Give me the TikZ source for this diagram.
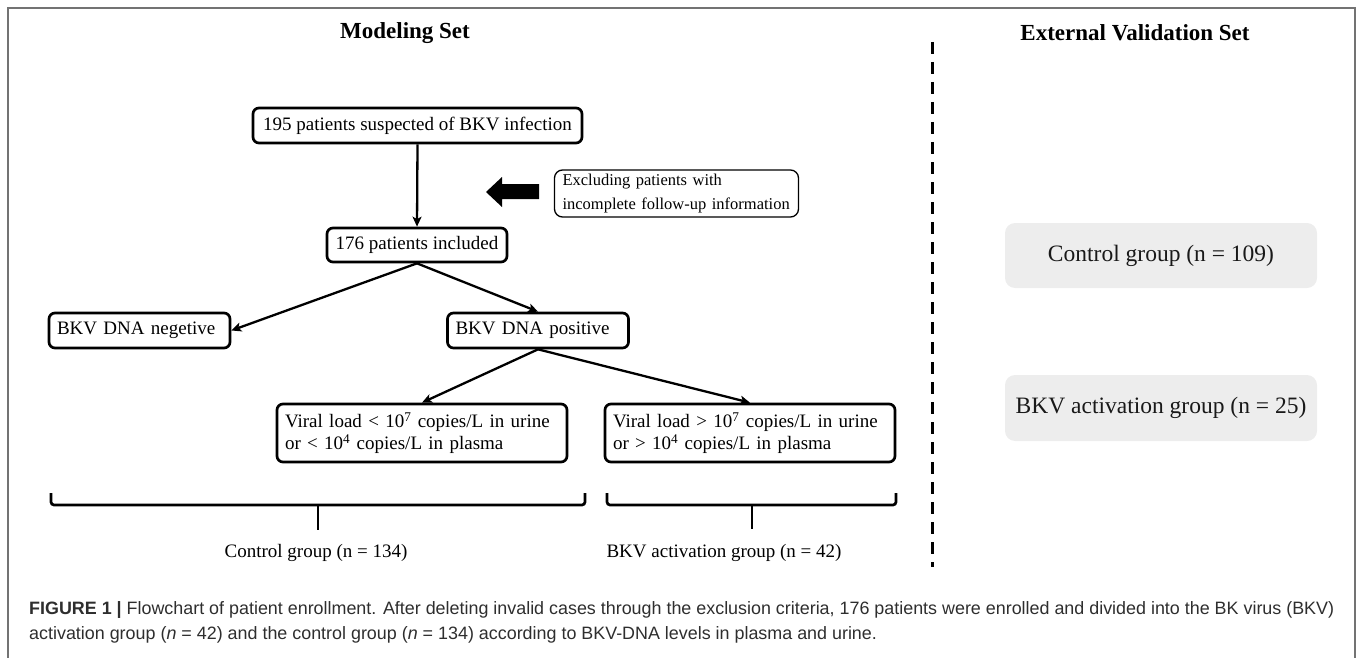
\documentclass[tikz,border=0pt]{standalone}
\usepackage{fontspec}
\setmainfont{Liberation Serif}
\newfontfamily\capfont{Liberation Sans}
\usetikzlibrary{arrows.meta}
\begin{document}
\begin{tikzpicture}[x=1pt,y=-1pt,
  fbox/.style={draw, line width=2.7pt, rounded corners=6pt, inner ysep=0pt, inner xsep=8pt,
    font=\fontsize{19}{22}\selectfont, align=center},
  lbox/.style={fbox, align=left},
  conn/.style={line width=2.3pt, -{Stealth[length=10pt,width=9pt,inset=2.5pt]}},
  brace/.style={line width=2.7pt, rounded corners=3pt},
  gbox/.style={fill=black!7, rounded corners=10pt, inner sep=0pt,
    font=\fontsize{23.5}{28}\selectfont, text=black!90},
  ttl/.style={font=\bfseries\fontsize{23}{28}\selectfont},
  lbl/.style={font=\fontsize{19}{22}\selectfont},
  captxt/.style={anchor=base west, inner sep=0pt, font=\capfont\fontsize{17.9}{24}\selectfont, text=black!82}
]
\useasboundingbox (0,0) rectangle (1357,658);
% frame
\draw[black!55, line width=1.2pt] (8,670) -- (8,8) -- (1355,8) -- (1355,670);

% titles
\node[ttl] (t1) at (405,33) {Modeling Set};
\node[ttl] (t2) at (1135,33) {External Validation Set};

% flow boxes
\node[fbox, minimum width=329pt, minimum height=35pt] (a) at (417.5,125.5) {195 patients suspected of BKV infection};
\node[fbox, minimum width=180pt, minimum height=34pt] (b) at (417,245) {176 patients included};
\node[lbox, text width=165pt, minimum height=35pt] (neg) at (139.5,330.5) {BKV DNA negetive};
\node[lbox, text width=165pt, minimum height=35pt] (pos) at (538,330.5) {BKV DNA positive};
\node[lbox, text width=274pt, minimum height=58pt] (vl) at (422,433) {Viral load < 10\textsuperscript{7} copies/L in urine\\or < 10\textsuperscript{4} copies/L in plasma};
\node[lbox, text width=274pt, minimum height=58pt] (vg) at (750,433) {Viral load > 10\textsuperscript{7} copies/L in urine\\or > 10\textsuperscript{4} copies/L in plasma};
\node[draw, line width=1.3pt, rounded corners=8pt, inner xsep=8pt, inner ysep=0pt, text width=228pt,
  minimum height=47pt, align=left, font=\fontsize{16.5}{24}\selectfont] (ex) at (676.5,193.5)
  {Excluding patients with\\incomplete follow-up information};

% block arrow
\fill (486,192) -- (502,177) -- (502,184) -- (539,184) -- (539,199) -- (502,199) -- (502,207) -- cycle;

% connectors
\draw[conn] (a.south) -- (b.north);
\draw[conn] (b.south) -- (neg.east);
\draw[conn] (b.south) -- (pos.north);
\draw[conn] (pos.south) -- (vl.north);
\draw[conn] (pos.south) -- (vg.north);

% braces
\coordinate (l1) at (51,493);
\coordinate (l2) at (585,493);
\coordinate (ls) at (318,505);
\coordinate (le) at (318,530);
\draw[brace] (l1) -- (51,505) -- (585,505) -- (l2);
\draw[brace] (ls) -- (le);
\coordinate (r1) at (607,493);
\coordinate (r2) at (896,493);
\coordinate (rs) at (752,505);
\coordinate (re) at (752,529);
\draw[brace] (r1) -- (607,505) -- (896,505) -- (r2);
\draw[brace] (rs) -- (re);

\node[lbl] (cl) at (316,553) {Control group (n = 134)};
\node[lbl] (al) at (724,553) {BKV activation group (n = 42)};

% dashed separator
\coordinate (d1) at (932,42);
\coordinate (d2) at (932,567);
\draw[line width=3pt, dash pattern=on 12pt off 8pt] (d1) -- (d2);

% external validation boxes
\node[gbox, minimum width=312pt, minimum height=65pt] (g1) at (1161,255.5) {Control group (n = 109)};
\node[gbox, minimum width=312pt, minimum height=66pt] (g2) at (1161,408) {BKV activation group (n = 25)};

% caption
\node[captxt] (cap1) at (29,614) {\textbf{FIGURE 1 |} Flowchart of patient enrollment. After deleting invalid cases through the exclusion criteria, 176 patients were enrolled and divided into the BK virus (BKV)};
\node[captxt] (cap2) at (29,639) {activation group (\textit{n} = 42) and the control group (\textit{n} = 134) according to BKV-DNA levels in plasma and urine.};
\end{tikzpicture}
\end{document}
